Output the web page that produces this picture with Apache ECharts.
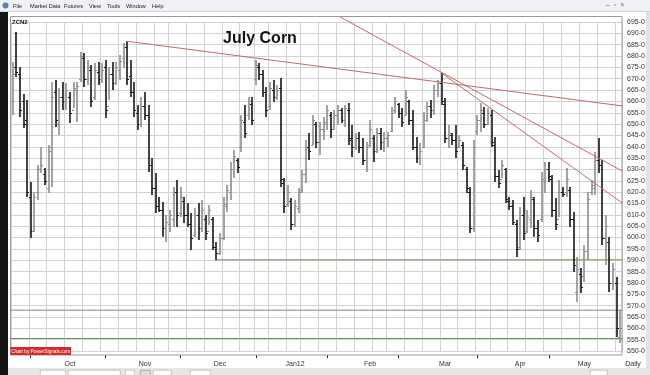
<!DOCTYPE html>
<html><head><meta charset="utf-8">
<script src="https://cdn.jsdelivr.net/npm/echarts@6/dist/echarts.min.js"></script>
<style>html,body{margin:0;padding:0;background:#fff;overflow:hidden}#c{width:650px;height:375px}</style>
</head><body><div id="c"></div>
<script>
// ---- Daily OHLC, July Corn (ZCN2), Sep 26 2011 .. May 2012 ----
const highs = [
677.4,690.6,675.2,663.3,660.6,624.5,620.1,632.0,639.9,630.7,
640.8,668.6,669.4,665.9,668.6,668.1,664.2,668.6,668.6,681.8,
681.3,678.3,676.0,676.9,677.4,676.9,678.3,675.2,677.4,677.4,
680.5,685.7,686.5,678.3,668.6,658.4,661.9,664.2,658.4,635.1,
628.5,617.9,615.7,609.9,612.1,622.3,625.4,622.3,617.9,615.2,
610.8,613.0,615.2,616.6,609.9,614.4,609.1,598.0,602.0,617.9,
623.2,633.3,638.6,635.1,654.0,658.4,661.9,661.9,678.3,676.9,
673.8,666.4,668.6,669.4,667.2,670.3,626.3,623.2,617.4,616.6,
621.8,629.8,643.0,646.1,654.0,650.9,650.9,653.1,658.4,655.3,
656.2,658.4,657.1,658.4,659.3,649.6,646.1,646.5,643.9,642.1,
651.8,645.2,648.3,648.3,646.5,646.5,657.5,661.9,659.3,657.1,
665.0,660.7,656.2,644.3,641.7,655.3,659.7,660.6,667.2,669.4,
672.5,661.5,649.6,646.1,649.6,645.2,642.1,631.1,622.3,643.0,
654.0,659.3,657.5,657.1,656.2,644.3,629.8,634.2,630.7,617.9,
616.6,607.7,613.5,617.9,612.1,621.0,617.9,607.7,628.9,633.3,
633.3,627.6,617.4,625.4,622.3,630.7,622.3,611.3,591.4,586.6,
596.7,620.1,625.4,637.7,643.9,634.2,609.9,600.2,588.8,582.6,568.1];
const lows = [
654.0,670.8,653.1,648.3,617.9,599.8,602.5,616.6,628.5,623.2,
619.6,622.3,648.7,645.2,656.2,656.2,650.5,657.1,650.9,668.6,
666.4,667.2,657.5,660.6,667.2,668.1,652.7,660.6,665.0,667.2,
669.4,674.7,667.2,661.9,653.1,647.4,648.7,651.8,628.9,618.8,
610.8,611.3,600.3,598.0,602.5,604.7,604.7,609.1,606.4,604.7,
594.5,600.3,598.9,602.5,598.9,605.5,594.5,590.0,592.3,598.9,
611.3,616.6,626.3,628.5,637.7,643.9,651.8,649.6,667.2,669.4,
661.9,653.1,656.2,659.7,660.6,622.3,610.8,613.5,603.3,604.7,
610.8,619.6,624.0,634.2,640.8,639.5,636.4,643.0,647.4,643.9,
647.4,649.6,650.5,648.7,640.8,635.5,638.6,637.3,632.0,628.9,
639.9,633.3,637.3,638.6,637.7,639.9,646.5,654.9,652.7,648.7,
654.0,649.6,638.6,632.9,632.0,639.5,650.9,652.7,654.0,661.9,
658.4,641.7,639.5,640.8,635.1,639.5,629.8,619.6,602.0,602.5,
645.2,646.5,648.3,649.6,639.9,624.5,621.8,626.3,615.2,612.1,
605.5,591.4,594.5,598.9,602.0,604.2,600.3,598.0,606.9,619.6,
624.5,609.1,603.3,609.1,617.9,617.9,604.7,584.8,571.6,575.6,
580.4,590.1,618.8,618.8,628.5,596.7,587.9,576.0,576.9,556.2,553.5];
const opens = [
660,675,672,660,652,618,603,620,630,628,
622,640,664,650,662,660,662,656,665,670,
679,670,674,662,673,670,675,658,672,668,
674,679,684,671,664,655,650,658,654,632,
622,614,612,604,606,608,620,611,616,610,
606,601,610,604,608,603,608,596,593,600,
614,620,630,634,640,651,654,659,670,675,
672,664,658,665,662,666,624,615,616,606,
613,621,628,640,641,650,642,648,650,654,
648,654,656,652,656,644,640,644,640,634,
641,644,638,646,642,644,647,656,659,655,
654,660,652,640,635,640,652,658,656,665,
668,659,644,645,643,640,641,630,620,604,
647,652,655,650,654,641,627,626,630,616,
614,606,596,610,603,608,617,604,608,625,
630,626,612,608,620,620,621,608,576,584,
583,594,620,622,634,632,600,598,580,580,556];
const closes = [
672,673,656,650,620,603,618,630,632,625,
638,662,652,662,660,665,655,666,667,680,
670,675,660,674,670,674,656,672,668,675,
678,684,670,664,656,650,658,654,632,622,
614,612,604,607,610,620,610,618,610,606,
600,610,604,612,602,612,596,593,600,615,
621,630,636,631,652,646,660,652,676,672,
664,656,666,662,665,626,614,620,606,614,
620,628,640,638,652,642,648,651,656,648,
654,656,652,657,643,640,644,640,634,640,
648,638,646,642,644,645,655,660,655,651,
662,652,640,635,638,652,658,656,665,668,
660,644,646,643,638,643,632,622,604,640,
652,656,650,655,642,627,624,632,617,614,
607,595,610,602,609,618,604,601,626,630,
627,612,606,620,619,626,608,588,586,578,
594,617,623,634,632,600,605,580,586,560,560];

// axis / tick labels
const monthLabels   = ['Oct','Nov','Dec','Jan12','Feb','Mar','Apr','May'];
const monthLabelIdx = [16, 37, 58, 79, 100, 121, 142, 160];
const monthStartIdx = [5, 26, 47, 68, 88, 108, 130, 150];
const weekStartIdx  = [0,5,10,15,20,25,30,35,40,44,49,54,59,64,68,72,77,81,86,91,96,101,105,110,115,120,125,130,134,139,144,149,154,159,164,169];
const yMin = 550, yMax = 695, yStep = 5;

// drawn study lines: [ [index, price], [index, price] ]
const redLines = [
  [[32, 686.5], [170.6, 658.0]],
  [[91.6, 697.2], [170.6, 629.3]],
  [[120, 672.5], [170.6, 615.2]]
];
const greenLines = [
  [[57, 590.2], [170.6, 590.2]],
  [[-0.85, 568.0], [170.6, 568.0]],
  [[-0.85, 555.5], [170.6, 555.5]]
];

const N = highs.length;
const categories = Array.from({length: N}, (_, i) => String(i));
const bars = highs.map((h, i) => [i, opens[i], closes[i], lows[i], h]);

const FONT = '"Liberation Sans", Arial, sans-serif';

const series = [{
  type: 'custom', xAxisIndex: 1, yAxisIndex: 0, data: bars,
  encode: {x: 0, y: [1, 2, 3, 4]}, silent: true, animation: false, z: 5,
  renderItem: (params, api) => {
    const i = api.value(0), o = api.value(1), c = api.value(2), l = api.value(3), h = api.value(4);
    const pH = api.coord([i, h]), pL = api.coord([i, l]), pO = api.coord([i, o]), pC = api.coord([i, c]);
    const x = Math.round(pH[0]);
    const col = c >= o ? '#8c8c8c' : '#141414';
    const yo = Math.round(pO[1]) + 0.5, yc = Math.round(pC[1]) + 0.5;
    return {type: 'group', children: [
      {type: 'line', shape: {x1: x, y1: pH[1], x2: x, y2: pL[1]}, style: {stroke: col, lineWidth: 1.6}},
      {type: 'line', shape: {x1: x - 2, y1: yo, x2: x, y2: yo}, style: {stroke: col, lineWidth: 1}},
      {type: 'line', shape: {x1: x, y1: yc, x2: x + 2, y2: yc}, style: {stroke: col, lineWidth: 1}}
    ]};
  }
}];
redLines.forEach(seg => series.push({type: 'line', xAxisIndex: 1, data: seg, symbol: 'none', clip: false,
  silent: true, animation: false, z: 6, lineStyle: {color: '#c46a6a', width: 1}}));
greenLines.forEach(seg => series.push({type: 'line', xAxisIndex: 1, data: seg, symbol: 'none', clip: false,
  silent: true, animation: false, z: 4, lineStyle: {color: '#6a9a62', width: 1}}));

const menu = [['File',13],['Market Data',30],['Futures',64],['View',89],['Tools',107],['Window',126],['Help',152]];
const graphic = [
  {type: 'rect', left: 0, top: 0, shape: {width: 650, height: 12}, style: {fill: '#eef1f6'}, z: 1},
  {type: 'rect', left: 0, top: 11.5, shape: {width: 650, height: 0.5}, style: {fill: '#b8bcc4'}, z: 1},
  {type: 'circle', shape: {cx: 5.5, cy: 5.5, r: 3}, style: {fill: '#5a7fb0'}, z: 2},
  ...menu.map(m => ({type: 'text', x: m[1], y: 3, style: {text: m[0], fill: '#222', font: '5.6px ' + FONT}, z: 2})),
  {type: 'text', x: 606, y: 2, style: {text: '–  ▫  ×', fill: '#666', font: '7px ' + FONT}, z: 2},
  {type: 'rect', left: 0, top: 12, shape: {width: 8, height: 363}, style: {fill: '#141414'}, z: 1},
  {type: 'rect', left: 646, top: 12, shape: {width: 4, height: 356}, style: {fill: '#dfe4ea'}, z: 1},
  {type: 'rect', left: 8, top: 368, shape: {width: 642, height: 7}, style: {fill: '#e6e6e6'}, z: 1},
  {type: 'rect', left: 40, top: 370, shape: {width: 25, height: 6}, style: {fill: '#fff', stroke: '#999', lineWidth: 0.5}, z: 2},
  {type: 'rect', left: 68, top: 370, shape: {width: 52, height: 6}, style: {fill: '#fff', stroke: '#999', lineWidth: 0.5}, z: 2},
  {type: 'rect', left: 125, top: 370, shape: {width: 9, height: 6}, style: {fill: '#fff', stroke: '#999', lineWidth: 0.5}, z: 2},
  {type: 'rect', left: 140, top: 370, shape: {width: 10, height: 6}, style: {fill: '#ddd', stroke: '#777', lineWidth: 0.5}, z: 2},
  {type: 'rect', left: 153, top: 370, shape: {width: 18, height: 6}, style: {fill: '#fff', stroke: '#999', lineWidth: 0.5}, z: 2},
  {type: 'rect', left: 190, top: 370, shape: {width: 20, height: 6}, style: {fill: '#fff', stroke: '#999', lineWidth: 0.5}, z: 2},
  {type: 'rect', left: 590, top: 370, shape: {width: 17, height: 6}, style: {fill: '#fff', stroke: '#999', lineWidth: 0.5}, z: 2},
  {type: 'rect', shape: {x: 10.5, y: 16.5, width: 611.5, height: 338.5}, style: {fill: 'none', stroke: '#9a9a9a', lineWidth: 1}, z: 3},
  {type: 'text', x: 12, y: 19, style: {text: 'ZCN2', fill: '#111', font: 'bold 6px ' + FONT}, z: 10},
  {type: 'text', x: 260, y: 39, style: {text: 'July Corn', fill: '#111', font: 'bold 16px ' + FONT, align: 'center', verticalAlign: 'middle'}, z: 10},
  {type: 'rect', shape: {x: 10.5, y: 347, width: 60.5, height: 8}, style: {fill: '#d42a2a'}, z: 10},
  {type: 'text', x: 40.75, y: 351.2, style: {text: 'Chart by PowerSignals.com', fill: '#fff', font: '4.8px ' + FONT, align: 'center', verticalAlign: 'middle'}, z: 11},
  {type: 'text', x: 633, y: 364.5, style: {text: 'Daily', fill: '#333', font: '7px ' + FONT, align: 'center', verticalAlign: 'middle'}, z: 10}
];

const chart = echarts.init(document.getElementById('c'), null, {renderer: 'canvas'});
chart.setOption({
  animation: false,
  backgroundColor: '#ffffff',
  grid: {left: 11, right: 28, top: 22, bottom: 24, containLabel: false},
  xAxis: [{
    type: 'category', data: categories, boundaryGap: true, offset: 4,
    axisLine: {show: false},
    axisTick: {show: true, alignWithLabel: true, length: 3, lineStyle: {color: '#222', width: 1},
      interval: (i) => monthStartIdx.includes(i)},
    axisLabel: {show: true, margin: 6, fontSize: 7, color: '#333', fontFamily: FONT, hideOverlap: false,
      interval: (i) => monthLabelIdx.includes(i),
      formatter: (v, i) => { const k = monthLabelIdx.indexOf(i); return k >= 0 ? monthLabels[k] : ''; }},
    splitLine: {show: true, lineStyle: {color: '#d2d2d2', width: 1},
      interval: (i) => weekStartIdx.includes(i)}
  }, {
    type: 'value', min: -0.5, max: N - 0.5, show: false
  }],
  yAxis: [{
    type: 'value', position: 'right', min: yMin, max: yMax, interval: yStep, scale: true,
    axisLine: {show: false}, axisTick: {show: false},
    axisLabel: {margin: 5, fontSize: 7, color: '#333', fontFamily: FONT, formatter: v => v + '-0'},
    splitLine: {show: true, lineStyle: {color: '#d2d2d2', width: 1}}
  }],
  series: series,
  graphic: graphic
});
</script>
</body></html>
